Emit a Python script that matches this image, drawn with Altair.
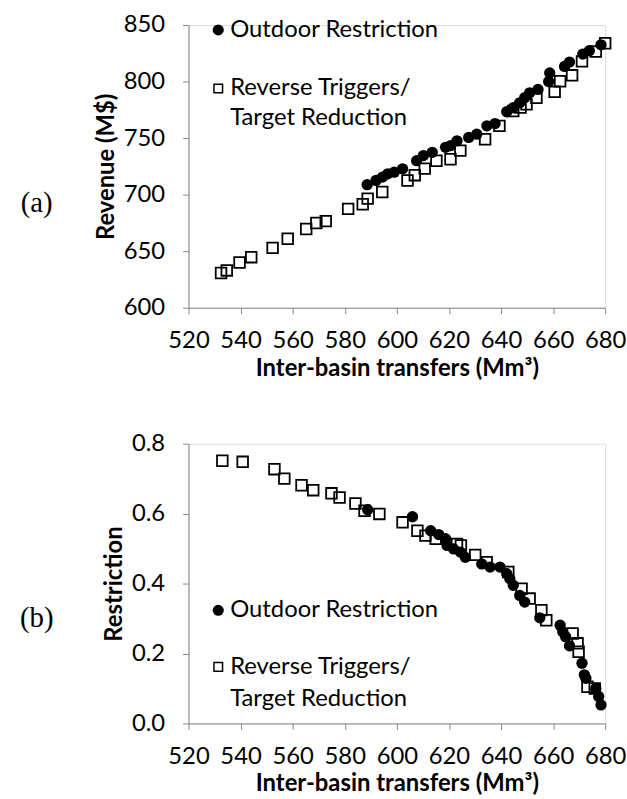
import altair as alt
import pandas as pd

# ---------------- data ----------------
# Panel (a): Revenue vs inter-basin transfers
a_out_x = [588.6, 592.0, 594.5, 596.5, 599.0, 602.2, 607.6, 610.2, 613.6, 618.7,
           620.6, 623.1, 627.6, 630.7, 634.6, 637.7, 642.2, 644.7, 647.2, 649.1,
           651.0, 654.2, 658.3, 658.7, 664.4, 666.3, 671.4, 673.9, 678.4]
a_out_y = [708.8, 712.6, 715.5, 718.4, 719.9, 722.8, 730.0, 734.5, 737.4, 741.8,
           743.3, 747.6, 750.6, 753.5, 760.8, 762.8, 773.3, 776.8, 781.2, 785.7,
           790.0, 793.0, 800.0, 807.6, 813.4, 817.2, 824.3, 827.2, 832.5]
a_rev_x = [532.5, 534.7, 539.6, 544.1, 552.3, 558.1, 565.2, 569.1, 572.7, 581.3,
           586.9, 588.8, 594.4, 604.1, 606.9, 610.7, 615.2, 620.6, 624.4, 633.9,
           639.4, 644.7, 647.5, 649.8, 653.6, 660.6, 662.7, 667.3, 671.1, 676.4, 680.0]
a_rev_y = [630.7, 633.0, 640.0, 644.7, 652.9, 661.0, 669.6, 674.9, 676.6, 687.4,
           691.5, 696.5, 702.3, 712.5, 717.2, 723.0, 730.0, 731.3, 738.9, 749.0,
           760.8, 773.9, 777.0, 779.8, 785.7, 790.9, 800.3, 805.5, 817.8, 826.5, 833.9]

# Panel (b): Restriction vs inter-basin transfers
b_out_x = [588.8, 606.0, 613.0, 616.1, 618.7, 619.3, 621.8, 624.4, 626.3, 632.6,
           635.8, 639.6, 642.2, 643.4, 644.7, 647.2, 649.1, 654.9, 662.7, 663.7,
           664.8, 666.3, 671.1, 672.0, 672.6, 676.4, 677.5, 678.4]
b_out_y = [0.611, 0.591, 0.551, 0.540, 0.528, 0.509, 0.499, 0.490, 0.475, 0.456,
           0.447, 0.447, 0.428, 0.414, 0.395, 0.366, 0.347, 0.302, 0.281, 0.262,
           0.248, 0.222, 0.172, 0.139, 0.129, 0.100, 0.077, 0.053]
b_rev_x = [533.0, 540.8, 553.0, 556.8, 563.4, 567.9, 574.9, 578.0, 584.1, 587.6,
           593.3, 602.2, 607.9, 611.0, 614.9, 623.1, 624.6, 630.1, 634.5, 642.8,
           647.9, 651.0, 655.5, 657.4, 667.5, 669.4, 669.8, 673.2, 676.0]
b_rev_y = [0.751, 0.748, 0.727, 0.700, 0.681, 0.667, 0.658, 0.646, 0.629, 0.608,
           0.599, 0.575, 0.551, 0.537, 0.528, 0.513, 0.509, 0.482, 0.461, 0.433,
           0.385, 0.357, 0.324, 0.295, 0.257, 0.229, 0.205, 0.105, 0.100]

x_ticks = [520, 540, 560, 580, 600, 620, 640, 660, 680]
a_ticks = [600, 650, 700, 750, 800, 850]
b_ticks = [0.0, 0.2, 0.4, 0.6, 0.8]

legend_lines = ["Outdoor Restriction", "Reverse Triggers/", "Target Reduction"]
x_title = "Inter-basin transfers (Mm³)"

FONT = "Lato"
FS = 24
AX = "#868686"
W = 420


def axis_x():
    return alt.Axis(values=x_ticks, title=x_title, grid=False, domainColor=AX, tickColor=AX,
                    tickSize=6, labelFont=FONT, labelFontSize=FS, labelColor="black",
                    labelPadding=15, titleFont=FONT, titleFontSize=FS, titleFontWeight="bold",
                    titleColor="black", titlePadding=4, labelFlush=False)


def axis_y(ticks, title, fmt):
    return alt.Axis(values=ticks, title=title, grid=False, domainColor=AX, tickColor=AX,
                    tickSize=6, labelFont=FONT, labelFontSize=FS, labelColor="black",
                    labelPadding=18, format=fmt, titleFont=FONT, titleFontSize=FS,
                    titleFontWeight="bold", titleColor="black", titlePadding=5, labelFlush=False)


def text_layer(s, x, y, **kw):
    return alt.Chart(pd.DataFrame({"t": [s]})).mark_text(**kw).encode(
        x=alt.value(x), y=alt.value(y), text="t:N")


def panel(ox, oy, rx, ry, ydom, yticks, ytitle, fmt, H, leg_y, tag, tag_y):
    df_o = pd.DataFrame({"x": ox, "y": oy})
    df_r = pd.DataFrame({"x": rx, "y": ry})
    xs = alt.Scale(domain=[520, 680], nice=False, zero=False)
    ys = alt.Scale(domain=ydom, nice=False, zero=False)
    sq = alt.Chart(df_r).mark_point(shape="square", filled=False, color="black",
                                    strokeWidth=1.8, size=115, opacity=1).encode(
        x=alt.X("x:Q", scale=xs, axis=axis_x()),
        y=alt.Y("y:Q", scale=ys, axis=axis_y(yticks, ytitle, fmt)))
    ci = alt.Chart(df_o).mark_point(shape="circle", filled=True, color="black",
                                    size=130, opacity=1).encode(
        x=alt.X("x:Q", scale=xs), y=alt.Y("y:Q", scale=ys))
    one = pd.DataFrame({"t": [0]})
    l1 = alt.Chart(one).mark_point(shape="circle", filled=True, color="black",
                                   size=125, opacity=1).encode(
        x=alt.value(30), y=alt.value(leg_y[0]))
    l2 = alt.Chart(one).mark_point(shape="square", filled=False, color="black",
                                   strokeWidth=1.5, size=75, opacity=1).encode(
        x=alt.value(30), y=alt.value(leg_y[1]))
    tkw = dict(align="left", baseline="middle", font=FONT, fontSize=FS, color="black")
    t1 = text_layer(legend_lines[0], 42, leg_y[0], **tkw)
    t2 = text_layer(legend_lines[1], 42, leg_y[1], **tkw)
    t3 = text_layer(legend_lines[2], 42, leg_y[2], **tkw)
    lab = text_layer(tag, -153, tag_y, font="Liberation Serif", fontSize=29, color="black",
                     align="center", baseline="middle")
    return alt.layer(sq, ci, l1, l2, t1, t2, t3, lab).properties(width=W, height=H)


pa = panel(a_out_x, a_out_y, a_rev_x, a_rev_y, [600, 850], a_ticks, "Revenue (M$)", "d",
           285, [5, 64, 94], "(a)", 180)
pb = panel(b_out_x, b_out_y, b_rev_x, b_rev_y, [0, 0.8], b_ticks, "Restriction", ".1f",
           282, [168, 225, 257], "(b)", 176)

chart = alt.vconcat(pa, pb, spacing=50).properties(
    padding={"left": 19, "top": 9, "right": 0, "bottom": 0}
).configure_view(stroke=None).configure(background="white")

chart.save("out.html", embed_options={"renderer": "svg", "actions": False})
